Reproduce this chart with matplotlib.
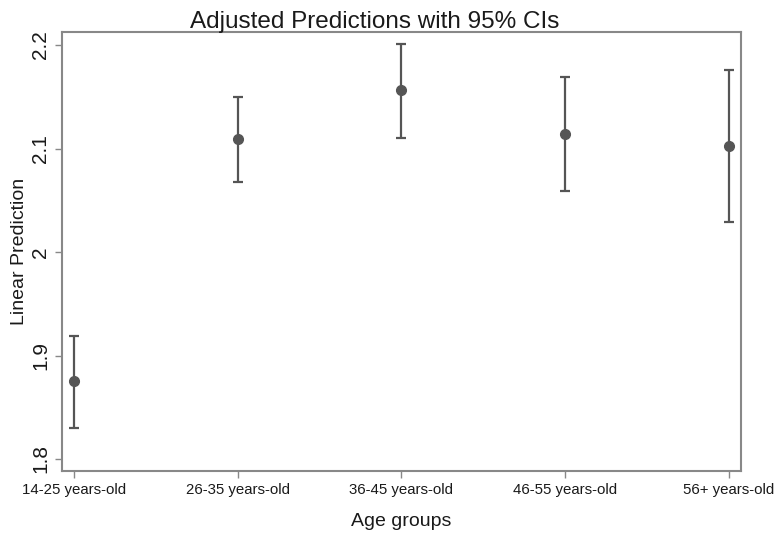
import numpy as np
import matplotlib
matplotlib.use('Agg')
import matplotlib.pyplot as plt

plt.rcParams['font.family'] = ['Liberation Sans', 'DejaVu Sans']

groups = ['14-25 years-old', '26-35 years-old', '36-45 years-old',
          '46-55 years-old', '56+ years-old']
pred = [1.875, 2.109, 2.157, 2.114, 2.102]
ci_low = [1.830, 2.068, 2.110, 2.059, 2.029]
ci_high = [1.919, 2.150, 2.201, 2.169, 2.176]
yticks = [1.8, 1.9, 2.0, 2.1, 2.2]
ytick_labels = ['1.8', '1.9', '2', '2.1', '2.2']

x = np.arange(1, len(groups) + 1)
pred = np.array(pred)
err = np.array([pred - np.array(ci_low), np.array(ci_high) - pred])

fig = plt.figure(figsize=(7.81, 5.33), dpi=100)
ax = fig.add_axes([62/781, 1 - 471/533, (741-62)/781, (471-32)/533])

ax.errorbar(x, pred, yerr=err, fmt='o', color='#555555', ms=7,
            elinewidth=1.6, capsize=3.8, capthick=1.6)

ax.set_xlim(0.927, 5.073)
ax.set_ylim(1.7884, 2.2126)
ax.set_xticks(x)
ax.set_xticklabels(groups, fontsize=10.8)
ax.set_yticks(yticks)
ax.set_yticklabels(ytick_labels, fontsize=15, rotation=90, va='center')
for s in ax.spines.values():
    s.set_color('#888888')
    s.set_linewidth(1.5)
ax.tick_params(colors='#888888', labelcolor='#1a1a1a', length=5, width=1)

ax.set_xlabel('Age groups', fontsize=14, color='#1a1a1a', labelpad=12)
ax.set_ylabel('Linear Prediction', fontsize=14, color='#1a1a1a', labelpad=2)
fig.text(375/781, 1 - 28/533, 'Adjusted Predictions with 95% CIs',
         fontsize=17.5, color='#1a1a1a', ha='center', va='baseline')

fig.savefig('out.png', dpi=100)
